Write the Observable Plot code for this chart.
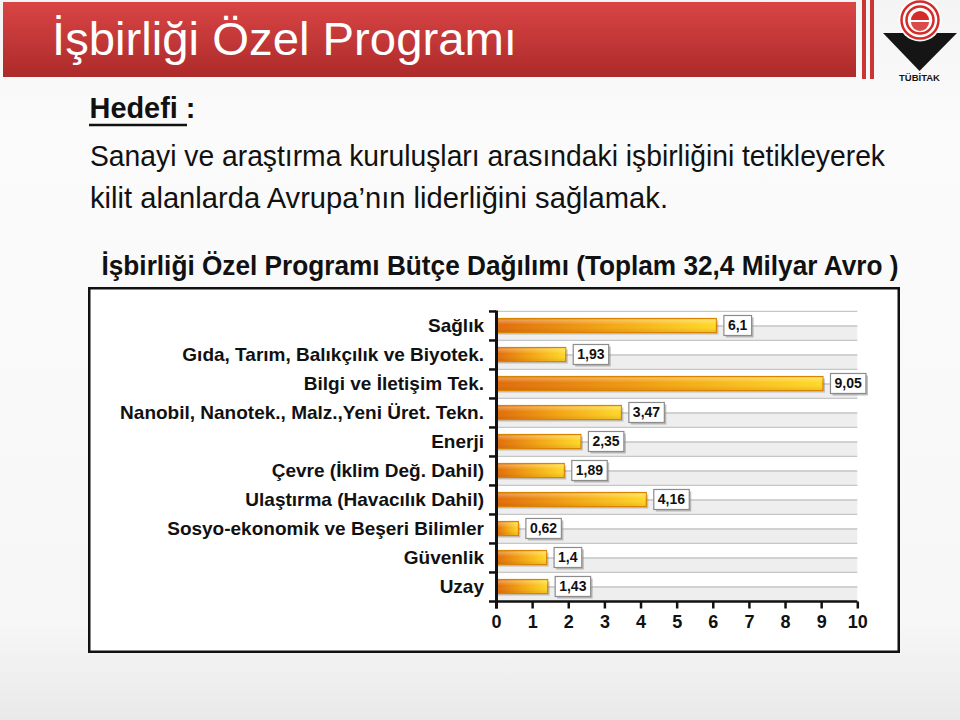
<!DOCTYPE html>
<html><head><meta charset="utf-8">
<script src="https://cdn.jsdelivr.net/npm/d3@7"></script>
<script src="https://cdn.jsdelivr.net/npm/@observablehq/plot@0.6"></script>
<style>
html,body{margin:0;padding:0;width:960px;height:720px;overflow:hidden;font-family:"Liberation Sans",Arial,sans-serif;}
#page{position:relative;width:960px;height:720px;}
#bg{position:absolute;left:0;top:0;}
#chart{position:absolute;left:88px;top:287px;width:812px;height:366px;}
</style></head><body>
<div id="page">
<svg id="bg" width="960" height="720" xmlns="http://www.w3.org/2000/svg" font-family="Liberation Sans, Arial, sans-serif">
  <defs>
    <linearGradient id="pageGrad" x1="0" y1="0" x2="0" y2="1">
      <stop offset="0" stop-color="#f4f4f4"/>
      <stop offset="0.18" stop-color="#fbfbfb"/>
      <stop offset="0.86" stop-color="#f7f7f7"/>
      <stop offset="1" stop-color="#e9e9e9"/>
    </linearGradient>
    <linearGradient id="redGrad" x1="0" y1="0" x2="0" y2="1">
      <stop offset="0" stop-color="#d94545"/>
      <stop offset="1" stop-color="#ad2a2a"/>
    </linearGradient>
  </defs>
  <rect x="0" y="0" width="960" height="720" fill="url(#pageGrad)"/>
  <rect x="3" y="2" width="853" height="75" fill="url(#redGrad)"/>
  <rect x="862" y="0" width="4" height="79" fill="#c93636"/>
  <rect x="870" y="0" width="4" height="79" fill="#c93636"/>
  <!-- logo -->
  <polygon points="883,33 957,33 919.5,71" fill="#151515"/>
  <circle cx="920" cy="20" r="21.5" fill="#ffffff"/>
  <circle cx="920" cy="20" r="18.5" fill="none" stroke="#d42b2b" stroke-width="2.5"/>
  <circle cx="920" cy="20" r="13.5" fill="none" stroke="#d42b2b" stroke-width="2.5"/>
  <path d="M911,20 A9,9 0 0 1 929,20 Z" fill="#d42b2b"/>
  <path d="M911,22 A9,9 0 0 0 929,22 Z" fill="#d42b2b" opacity="0.85"/>
  <text x="919.5" y="81" text-anchor="middle" font-size="9.5" font-weight="bold" fill="#151515">TÜBİTAK</text>
  <!-- texts -->
  <text x="52" y="55" font-size="47" fill="#ffffff" textLength="465" lengthAdjust="spacingAndGlyphs">İşbirliği Özel Programı</text>
  <text x="89.5" y="118" font-size="29" font-weight="bold" fill="#111" textLength="106" lengthAdjust="spacingAndGlyphs">Hedefi :</text>
  <line x1="89" x2="187" y1="125" y2="125" stroke="#111" stroke-width="2.5"/>
  <text x="90" y="166" font-size="29" fill="#111" textLength="795" lengthAdjust="spacingAndGlyphs">Sanayi ve araştırma kuruluşları arasındaki işbirliğini tetikleyerek</text>
  <text x="90" y="208" font-size="29" fill="#111" textLength="578" lengthAdjust="spacingAndGlyphs">kilit alanlarda Avrupa’nın liderliğini sağlamak.</text>
  <text x="101.5" y="275" font-size="28" font-weight="bold" fill="#111" textLength="797" lengthAdjust="spacingAndGlyphs">İşbirliği Özel Programı Bütçe Dağılımı (Toplam 32,4 Milyar Avro )</text>
  <rect x="89.25" y="288.25" width="809.5" height="363.5" fill="#ffffff" stroke="#111" stroke-width="2.5"/>
</svg>
<div id="chart"></div>
</div>
<script>
const categories = [
  "Sağlık",
  "Gıda, Tarım, Balıkçılık ve Biyotek.",
  "Bilgi ve İletişim Tek.",
  "Nanobil, Nanotek., Malz.,Yeni Üret. Tekn.",
  "Enerji",
  "Çevre (İklim Değ. Dahil)",
  "Ulaştırma (Havacılık Dahil)",
  "Sosyo-ekonomik ve Beşeri Bilimler",
  "Güvenlik",
  "Uzay"
];
const values = [6.1, 1.93, 9.05, 3.47, 2.35, 1.89, 4.16, 0.62, 1.4, 1.43];
const xTicks = [0, 1, 2, 3, 4, 5, 6, 7, 8, 9, 10];
const xDomain = [0, 10];

const data = categories.map((c, i) => ({category: c, value: values[i], label: String(values[i]).replace(".", ",")}));

const W = 812, H = 366, mt = 23.5, mb = 51.5, ml = 408, mr = 42.7;
const bw = (H - mt - mb) / categories.length;
const barInset = 7.5;

const chart = Plot.plot({
  width: W, height: H,
  marginLeft: ml, marginRight: mr, marginTop: mt, marginBottom: mb,
  style: {background: "transparent", color: "#111", fontFamily: "Liberation Sans, Arial, sans-serif", overflow: "visible"},
  x: {domain: xDomain},
  y: {domain: categories, padding: 0},
  marks: [
    Plot.barX(data, {y: "category", x1: xDomain[0], x2: xDomain[1], insetTop: bw / 2, fill: "#eeeeee"}),
    Plot.ruleY(data, {y: "category", x1: xDomain[0], x2: xDomain[1], dy: -bw / 2, stroke: "#c6c6c6", strokeWidth: 1.3}),
    Plot.ruleY(data, {y: "category", x1: xDomain[0], x2: xDomain[1], stroke: "#c6c6c6", strokeWidth: 1.3}),
    Plot.barX(data, {y: "category", x: "value", insetTop: barInset, insetBottom: barInset, fill: "#000", fillOpacity: 0.2, dx: 2, dy: 2}),
    Plot.barX(data, {y: "category", x: "value", insetTop: barInset, insetBottom: barInset, fill: "url(#barGrad)", stroke: "#d98300", strokeWidth: 1.2}),
    Plot.barX(data, {y: "category", x: "value", insetTop: barInset + 1, insetBottom: barInset + 1, fill: "url(#barShine)"}),
    Plot.ruleY(data, {y: "category", x1: 0, x2: 0, dy: -bw / 2, insetLeft: -7, stroke: "#111", strokeWidth: 2.5}),
    Plot.ruleY([categories[categories.length - 1]], {y: d => d, x1: xDomain[0], x2: xDomain[1], dy: bw / 2, insetLeft: -7, stroke: "#111", strokeWidth: 2.5}),
    Plot.ruleX([0], {stroke: "#111", strokeWidth: 3, insetBottom: -7}),
    Plot.text(data, {y: "category", x: "value", text: "label", dx: 11, textAnchor: "start", fontSize: 14, fontWeight: "bold", fill: "#111", ariaDescription: "vlabels"}),
    Plot.axisX({ticks: xTicks, tickSize: 7, tickPadding: 6, strokeWidth: 2.5, fontSize: 18, fontWeight: "bold", label: null, tickFormat: d => String(d)}),
    Plot.axisY({tickSize: 0, tickPadding: 12.5, fontSize: 19, fontWeight: "bold", label: null})
  ]
});

document.getElementById("chart").appendChild(chart);

const svg = d3.select(chart);
const defs = svg.insert("defs", ":first-child");
const g1 = defs.append("linearGradient").attr("id", "barGrad").attr("x1", 0).attr("x2", 1).attr("y1", 0).attr("y2", 0);
g1.append("stop").attr("offset", 0).attr("stop-color", "#e06a08");
g1.append("stop").attr("offset", 0.5).attr("stop-color", "#f3a410");
g1.append("stop").attr("offset", 1).attr("stop-color", "#ffd926");
const g2 = defs.append("linearGradient").attr("id", "barShine").attr("x1", 0).attr("x2", 0).attr("y1", 0).attr("y2", 1);
g2.append("stop").attr("offset", 0).attr("stop-color", "#ffffff").attr("stop-opacity", 0.35);
g2.append("stop").attr("offset", 0.45).attr("stop-color", "#ffffff").attr("stop-opacity", 0);
g2.append("stop").attr("offset", 1).attr("stop-color", "#8a3a00").attr("stop-opacity", 0.15);

// boxes behind value labels
let labelTexts = svg.selectAll('g[aria-description="vlabels"] text');
if (labelTexts.empty()) {
  const set = new Set(data.map(d => d.label));
  labelTexts = svg.selectAll("text").filter(function() { return set.has(this.textContent) && !this.closest('g[aria-label*="axis"]'); });
}
labelTexts.each(function() {
  const bb = this.getBBox();
  const cy = bb.y + bb.height / 2;
  const tr = this.getAttribute("transform");
  const parent = this.parentNode;
  const sh = document.createElementNS("http://www.w3.org/2000/svg", "rect");
  sh.setAttribute("x", bb.x - 4 + 2); sh.setAttribute("y", cy - 10 + 2);
  sh.setAttribute("width", bb.width + 8); sh.setAttribute("height", 20);
  sh.setAttribute("fill", "#8a8a8a"); sh.setAttribute("fill-opacity", 0.55);
  const r = document.createElementNS("http://www.w3.org/2000/svg", "rect");
  r.setAttribute("x", bb.x - 4); r.setAttribute("y", cy - 10);
  r.setAttribute("width", bb.width + 8); r.setAttribute("height", 20);
  r.setAttribute("fill", "#ffffff"); r.setAttribute("stroke", "#8c8c8c"); r.setAttribute("stroke-width", 1.2);
  if (tr) { sh.setAttribute("transform", tr); r.setAttribute("transform", tr); }
  parent.insertBefore(sh, this);
  parent.insertBefore(r, this);
});
</script>
</body></html>
